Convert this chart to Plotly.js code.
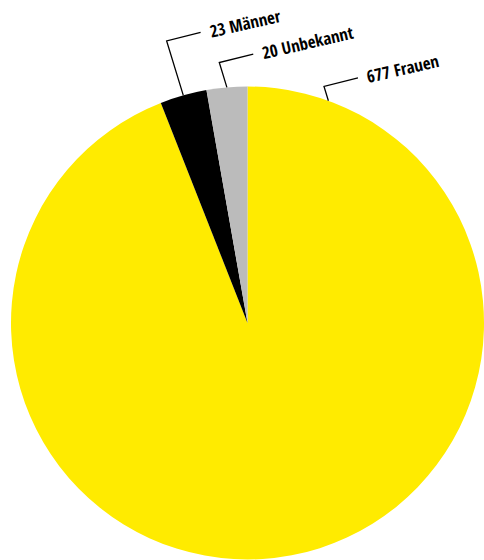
<!DOCTYPE html>
<html>
<head>
<meta charset="utf-8">
<script src="https://cdn.plot.ly/plotly-3.0.1.min.js"></script>
<style>html,body{margin:0;padding:0;background:#fff;}#chart{width:484px;height:560px;}</style>
</head>
<body>
<div id="chart"></div>
<script>
// Data
var categories = ["Frauen", "Männer", "Unbekannt"];
var values = [677, 23, 20];
var colors = ["#FFEB00", "#000000", "#BBBBBB"];

// Label styling (positions relative to slices)
var labelLead = [15, 57, 26];          // length of the first leader segment (px)
var labelAngleOverride = [20, null, null]; // degrees clockwise from 12 o'clock
var hLen = 35, gap = 9;
var vTilt = 17 * Math.PI / 180, hTilt = 14 * Math.PI / 180, tAngle = -13;
var fontFam = '"Open Sans Condensed", "Roboto Condensed", sans-serif';
var fontSize = 17;

var W = 484, H = 560;
var margin = {l: 11, r: 0, t: 86, b: 0, pad: 0};
var pw = W - margin.l - margin.r, ph = H - margin.t - margin.b;
var cx = margin.l + pw / 2, cy = margin.t + ph / 2, R = Math.min(pw, ph) / 2;

function toPaper(px, py) { return [(px - margin.l) / pw, 1 - (py - margin.t) / ph]; }

var canvas = document.createElement('canvas');
var ctx = canvas.getContext('2d');
ctx.font = 'bold ' + fontSize + 'px ' + fontFam;

var total = values.reduce(function (a, b) { return a + b; }, 0);
var shapes = [], annotations = [];
var cum = 0;
for (var i = 0; i < values.length; i++) {
  var mid = (cum + values[i] / 2) / total * 360;
  cum += values[i];
  var ang = (labelAngleOverride[i] !== null ? labelAngleOverride[i] : (mid > 180 ? mid - 360 : mid)) * Math.PI / 180;
  var sx = cx + R * Math.sin(ang), sy = cy - R * Math.cos(ang);
  var c1x = sx - labelLead[i] * Math.sin(vTilt), c1y = sy - labelLead[i] * Math.cos(vTilt);
  var ex = c1x + hLen * Math.cos(hTilt), ey = c1y - hLen * Math.sin(hTilt);
  var p0 = toPaper(sx, sy), p1 = toPaper(c1x, c1y), p2 = toPaper(ex, ey);
  shapes.push({type: 'path', xref: 'paper', yref: 'paper',
    path: 'M' + p0[0] + ',' + p0[1] + ' L' + p1[0] + ',' + p1[1] + ' L' + p2[0] + ',' + p2[1],
    line: {color: '#000', width: 1.3}});
  var txt = values[i] + ' ' + categories[i];
  var tw = ctx.measureText(txt).width;
  var ta = -tAngle * Math.PI / 180;
  var d = gap + tw / 2;
  var tx = ex + d * Math.cos(ta) + 1 * Math.sin(ta), ty = ey - d * Math.sin(ta) + 1 * Math.cos(ta);
  var pt = toPaper(tx, ty);
  annotations.push({xref: 'paper', yref: 'paper', x: pt[0], y: pt[1], text: txt,
    showarrow: false, xanchor: 'center', yanchor: 'middle', textangle: tAngle,
    font: {family: fontFam, size: fontSize, color: '#000', weight: 'bold'}});
}

var trace = {
  type: 'pie', labels: categories, values: values, sort: false,
  direction: 'clockwise', rotation: 0, textinfo: 'none', hoverinfo: 'label+value',
  marker: {colors: colors, line: {width: 0}}, showlegend: false
};

Plotly.newPlot('chart', [trace], {
  width: W, height: H, margin: margin, showlegend: false,
  paper_bgcolor: '#fff', plot_bgcolor: '#fff',
  shapes: shapes, annotations: annotations
}, {displayModeBar: false, staticPlot: true});
</script>
</body>
</html>
